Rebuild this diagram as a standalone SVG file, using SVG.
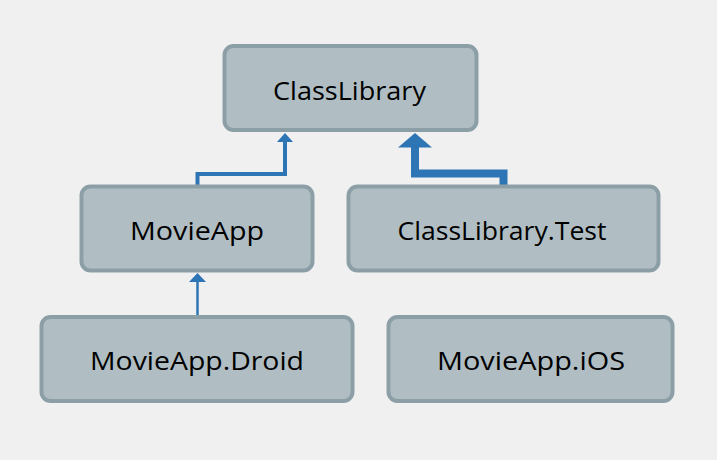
<svg xmlns="http://www.w3.org/2000/svg" width="717" height="460" viewBox="0 0 717 460">
<style>
.node rect{fill:#b0bec3;stroke:#8d9fa6;stroke-width:4}
.node text{font-family:"Segoe UI","Open Sans","Noto Sans",sans-serif;font-size:26px;fill:#000;text-anchor:middle}
.edge{fill:none;stroke:#2e75b6}
.head{fill:#2e75b6}
</style>
<rect width="717" height="460" fill="#f0f0f0"/>
<g id="connectors">
<polyline class="edge" stroke-width="4" points="197.5,186 197.5,174 285,174 285,140"/>
<polygon class="head" points="285,133 277,142 293,142"/>
<polyline class="edge" stroke-width="8" points="503.5,186 503.5,173.5 415,173.5 415,145"/>
<polygon class="head" points="415,133 398,147.5 432,147.5"/>
<line class="edge" stroke-width="2.5" x1="197.5" y1="316" x2="197.5" y2="280"/>
<polygon class="head" points="197.5,273 189,282 206,282"/>
</g>
<g id="ClassLibrary" class="node"><rect x="224.5" y="46" width="252" height="84" rx="9"/><text x="349.5" y="100" textLength="153" lengthAdjust="spacingAndGlyphs">ClassLibrary</text></g>
<g id="MovieApp" class="node"><rect x="81.5" y="186.5" width="231" height="84" rx="9"/><text x="197" y="240" textLength="134" lengthAdjust="spacingAndGlyphs">MovieApp</text></g>
<g id="ClassLibraryTest" class="node"><rect x="348.5" y="186.5" width="310" height="84" rx="9"/><text x="502" y="240" textLength="209" lengthAdjust="spacingAndGlyphs">ClassLibrary.Test</text></g>
<g id="MovieAppDroid" class="node"><rect x="41.5" y="317" width="311" height="84" rx="9"/><text x="197" y="370" textLength="214" lengthAdjust="spacingAndGlyphs">MovieApp.Droid</text></g>
<g id="MovieAppiOS" class="node"><rect x="388.5" y="317" width="284" height="84" rx="9"/><text x="531" y="370" textLength="188" lengthAdjust="spacingAndGlyphs">MovieApp.iOS</text></g>
</svg>
